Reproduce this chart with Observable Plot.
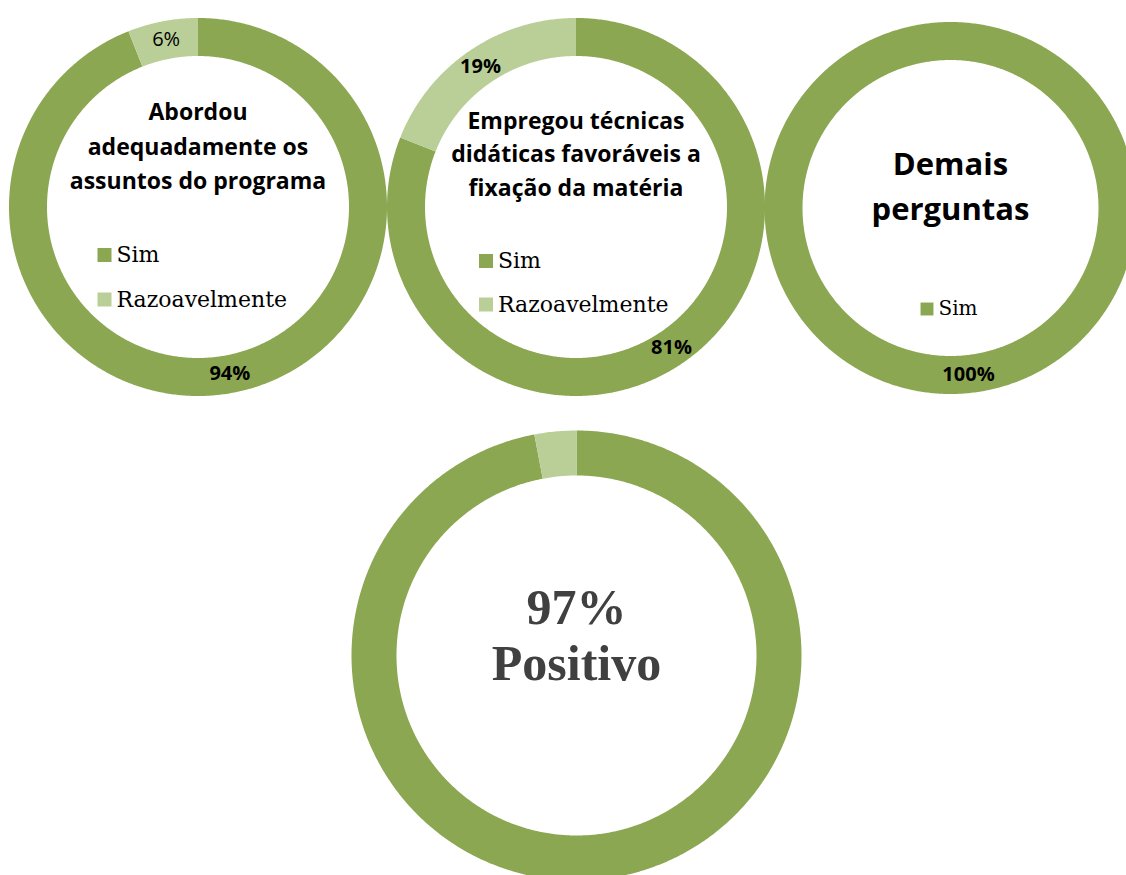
<!DOCTYPE html>
<html><head><meta charset="utf-8">
<script src="https://cdn.jsdelivr.net/npm/d3@7"></script>
<script src="https://cdn.jsdelivr.net/npm/@observablehq/plot@0.6"></script>
<style>html,body{margin:0;padding:0;background:#fff;overflow:hidden;}</style>
</head><body><div id="chart"></div>
<script>
// ---- data ----
const charts = ["Abordou adequadamente os assuntos do programa", "Empregou técnicas didáticas favoráveis a fixação da matéria", "Demais perguntas", "Total"];
const categories = ["Sim", "Razoavelmente"];
const simValues = [94, 81, 100, 97];
const razoValues = [6, 19, 0, 3];
const titles = ["Abordou\nadequadamente os\nassuntos do programa", "Empregou técnicas\ndidáticas favoráveis a\nfixação da matéria", "Demais\nperguntas", "97%\nPositivo"];
const legendCategories = [["Sim", "Razoavelmente"], ["Sim", "Razoavelmente"], ["Sim"], []];
const showValueLabels = [true, true, true, false];

// ---- styles / layout ----
const W = 1126, H = 875;
const colors = ["#8BA752", "#B9CF97"];
const layout = [
  {cx: 197.5, cy: 206.5, ro: 189, ri: 151, titleDy: -63.5, titleSize: 23, titleLH: 1.5, titleFont: "Open Sans", titleColor: "#000", legX: -93.5, legY: 48, legStep: 44.5, legSize: 22, legR: 7.9, labelDx: 0},
  {cx: 575.5, cy: 206.5, ro: 189, ri: 151, titleDy: -55.5, titleSize: 23, titleLH: 1.45, titleFont: "Open Sans", titleColor: "#000", legX: -90, legY: 54, legStep: 43.5, legSize: 22, legR: 7.9, labelDx: 0},
  {cx: 950, cy: 207.5, ro: 186, ri: 148, titleDy: -25, titleSize: 31, titleLH: 1.45, titleFont: "Open Sans", titleColor: "#000", legX: -23.5, legY: 101, legStep: 0, legSize: 20, legR: 7.3, labelDx: 18},
  {cx: 576, cy: 655, ro: 225, ri: 180, titleDy: -21, titleSize: 50, titleLH: 1.12, titleFont: "Liberation Serif", titleColor: "#404040", legX: 0, legY: 0, legStep: 0, legSize: 0, legR: 0, labelDx: 0}
];
const labelWeight = [["bold", "normal"], ["bold", "bold"], ["bold"], []];

// ---- build slices from data ----
const slices = [];
charts.forEach((c, i) => {
  const vals = [simValues[i], razoValues[i]];
  const total = d3.sum(vals);
  let acc = 0;
  vals.forEach((v, j) => {
    if (v <= 0) return;
    const a0 = acc / total * 2 * Math.PI;
    acc += v;
    const a1 = acc / total * 2 * Math.PI;
    slices.push({chart: i, cat: categories[j], catIndex: j, value: v, a0, a1, key: i + "-" + j});
  });
});

const pts = [];
for (const s of slices) {
  const L = layout[s.chart];
  const n = Math.max(2, Math.ceil((s.a1 - s.a0) / (Math.PI / 360)));
  for (let k = 0; k <= n; k++) {
    const a = s.a0 + (s.a1 - s.a0) * k / n;
    pts.push({key: s.key, cat: s.cat, x: L.cx + L.ro * Math.sin(a), y: L.cy - L.ro * Math.cos(a)});
  }
  for (let k = n; k >= 0; k--) {
    const a = s.a0 + (s.a1 - s.a0) * k / n;
    pts.push({key: s.key, cat: s.cat, x: L.cx + L.ri * Math.sin(a), y: L.cy - L.ri * Math.cos(a)});
  }
}

const labels = slices.filter(s => showValueLabels[s.chart]).map(s => {
  const L = layout[s.chart];
  const a = (s.a0 + s.a1) / 2, r = (L.ro + L.ri) / 2;
  return {text: s.value + "%", x: L.cx + r * Math.sin(a) + L.labelDx, y: L.cy - r * Math.cos(a), weight: labelWeight[s.chart][s.catIndex]};
});

const titleData = titles.map((t, i) => ({text: t, x: layout[i].cx, y: layout[i].cy + layout[i].titleDy, i}));

const legend = [];
legendCategories.forEach((cats, i) => {
  const L = layout[i];
  cats.forEach((c, j) => legend.push({cat: c, i, x: L.cx + L.legX, y: L.cy + L.legY + j * L.legStep}));
});

const marks = [
  Plot.line(pts, {x: "x", y: "y", z: "key", fill: "cat", stroke: null, curve: "linear-closed"}),
  Plot.text(labels.filter(d => d.weight === "bold"), {x: "x", y: "y", text: "text", fontSize: 20, fontWeight: "bold", fontFamily: "Open Sans", fill: "#000"}),
  Plot.text(labels.filter(d => d.weight !== "bold"), {x: "x", y: "y", text: "text", fontSize: 20, fontWeight: "normal", fontFamily: "Open Sans", fill: "#000"})
];
titleData.forEach(d => {
  const L = layout[d.i];
  marks.push(Plot.text([d], {x: "x", y: "y", text: "text", fontSize: L.titleSize, fontWeight: "bold", fontFamily: L.titleFont, lineHeight: L.titleLH, lineAnchor: "middle", fill: L.titleColor}));
});
[0, 1, 2].forEach(i => {
  const L = layout[i];
  const items = legend.filter(d => d.i === i);
  marks.push(Plot.dot(items, {x: "x", y: "y", symbol: "square", r: L.legR, fill: "cat", stroke: null}));
  marks.push(Plot.text(items, {x: "x", y: "y", text: "cat", dx: L.legR * 0.886 + 5, textAnchor: "start", fontSize: L.legSize, fontFamily: "DejaVu Serif", fill: "#000"}));
});

const chart = Plot.plot({
  width: W, height: H,
  margin: 0,
  x: {domain: [0, W], range: [0, W], axis: null},
  y: {domain: [0, H], range: [0, H], axis: null},
  color: {domain: categories, range: colors},
  style: {background: "#fff"},
  marks
});
document.getElementById("chart").appendChild(chart);
</script>
</body></html>
